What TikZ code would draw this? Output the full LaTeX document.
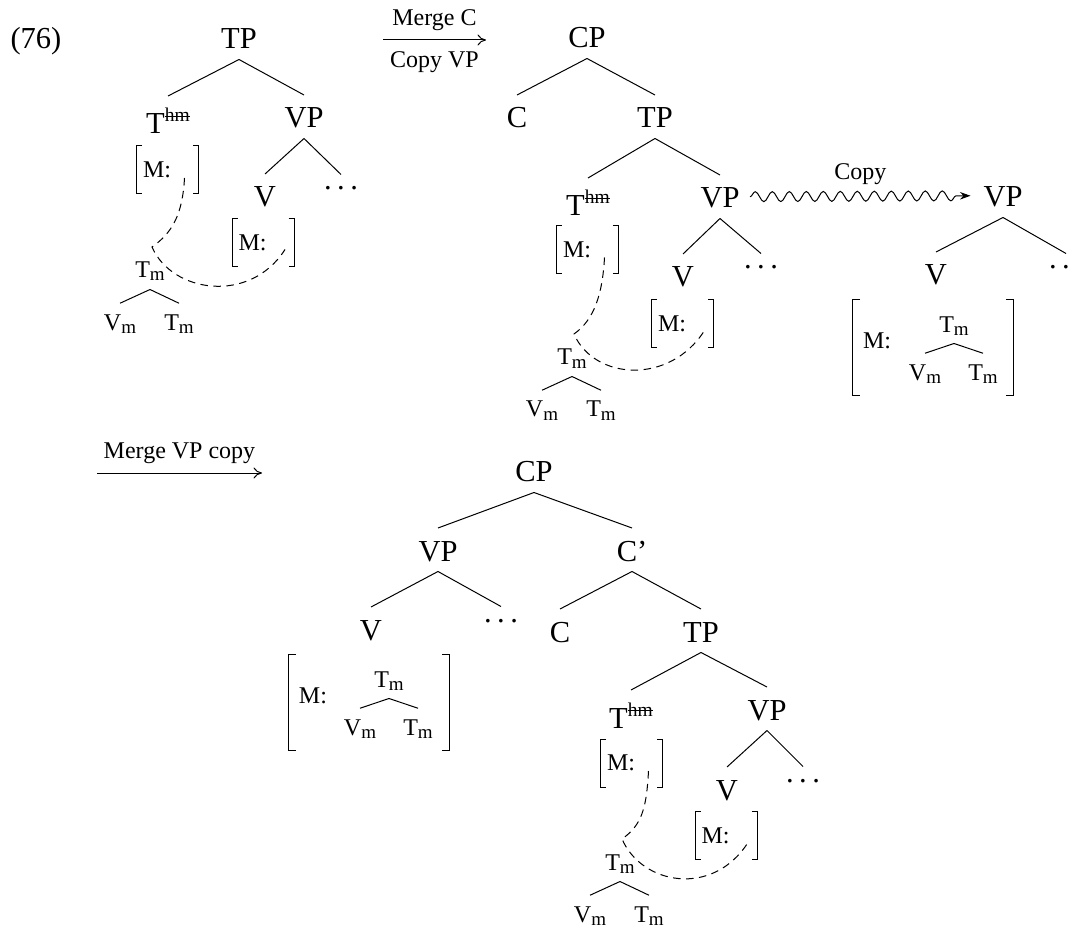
\documentclass[tikz,border=0pt]{standalone}
\usepackage{fontspec}
\setmainfont{Liberation Serif}
\usetikzlibrary{arrows.meta,decorations.pathmorphing}
\newcommand\hmstrike{\raisebox{4.8pt}{\fontsize{7.8}{8}\selectfont\setbox0\hbox{hm}\rlap{\rule[2pt]{\wd0}{0.4pt}}\box0}}
\newcommand\sbm{\raisebox{-1.2pt}{\fontsize{7.6}{8}\selectfont m}}
\newcommand\ldts{.\kern2.2pt.\kern2.2pt.}
\tikzset{
    cat/.style={font=\fontsize{12.2}{14}\selectfont, inner sep=0pt, text height=13pt, text depth=4pt, anchor=base},
    headcat/.style={cat, text height=15pt},
    lex/.style={font=\fontsize{9.6}{11}\selectfont, inner sep=0pt, text height=10.5pt, text depth=4.4pt, anchor=base},
    ell/.style={font=\fontsize{12.2}{14}\selectfont, inner sep=0pt, text height=6pt, text depth=0pt, anchor=base},
    avm/.style={font=\fontsize{9.6}{11}\selectfont, inner xsep=2.4pt, inner ysep=0pt, minimum height=18.8pt, text width=19.6pt, align=left},
    bigavm/.style={avm, minimum height=38pt, text width=56pt, inner xsep=4pt, text depth=5.6pt},
    branch/.style={line width=0.4pt},
    agree/.style={line width=0.4pt, dash pattern=on 3pt off 2.2pt},
    derive/.style={-{To[length=3.4pt,width=4.4pt]}, line width=0.4pt},
    copyflow/.style={-{Stealth[length=4.2pt,width=3pt]}, line width=0.4pt,
        decorate, decoration={snake, amplitude=2pt, segment length=6.8pt, post length=4.5pt}},
    lbl/.style={font=\fontsize{9.6}{11}\selectfont, inner sep=1.5pt},
}

\begin{document}
\begin{tikzpicture}[x=0.4pt, y=-0.4pt]
    \useasboundingbox (0,0) rectangle (1075,926);

    % before Merge C
    \node[cat] (ex) at (36,49) {(76)};
    \node[cat] (tp1) at (239,49) {TP};
    \node[headcat] (thm1) at (168,134) {T\hmstrike};
    \node[cat] (vp1) at (304,128) {VP};
    \node[avm] (b1) at (167.5,170) {M:};
    \node[cat] (v1) at (265,207) {V};
    \node[ell] (d1) at (341,190) {\ldts};
    \node[avm] (bv1) at (263,242.5) {M:};
    \node[lex] (tm1) at (150,278) {T\sbm};
    \node[lex] (vm1) at (120,330) {V\sbm};
    \node[lex] (tt1) at (179,330) {T\sbm};

    \coordinate (a1s) at (383,40);
    \coordinate (a1e) at (486,40);
    \draw[derive] (a1s) -- node[lbl, above=2pt] {Merge C} node[lbl, below=3pt] {Copy VP} (a1e);

    % after Merge C
    \node[cat] (cp2) at (587,48) {CP};
    \node[cat] (c2) at (517,128) {C};
    \node[cat] (tp2) at (655,128) {TP};
    \node[headcat] (thm2) at (588,216) {T\hmstrike};
    \node[cat] (vp2) at (720,208) {VP};
    \node[avm] (b2) at (587.5,249.5) {M:};
    \node[cat] (v2) at (683,287) {V};
    \node[ell] (d2) at (761,269) {\ldts};
    \node[avm] (bv2) at (682.5,323.5) {M:};
    \node[lex] (tm2) at (572,365) {T\sbm};
    \node[lex] (vm2) at (542,417) {V\sbm};
    \node[lex] (tt2) at (601,417) {T\sbm};

    % the copy
    \node[cat] (vp3) at (1003,207) {VP};
    \node[cat] (v3) at (936,285) {V};
    \node[ell] (d3) at (1066,269) {\ldts};
    \node[bigavm] (bv3) at (933,347.5) {M:};
    \node[lex] (tm3) at (954,332) {T\sbm};
    \node[lex] (vm3) at (925,380) {V\sbm};
    \node[lex] (tt3) at (983,380) {T\sbm};
    \draw[copyflow] ([xshift=4pt]vp2.east) -- node[lbl, above=3pt] {Copy} ([xshift=-5pt]vp3.west);

    \coordinate (a2s) at (97,473);
    \coordinate (a2e) at (262,473);
    \draw[derive] (a2s) -- node[lbl, above=2pt] {Merge VP copy} (a2e);

    % after Merge VP copy
    \node[cat] (cp4) at (534,482) {CP};
    \node[cat] (svp4) at (438,561) {VP};
    \node[cat] (cb4) at (632,561) {C'};
    \node[cat] (sv4) at (371,640) {V};
    \node[ell] (sd4) at (501,622) {\ldts};
    \node[cat] (c4) at (560,642) {C};
    \node[cat] (tp4) at (701,642) {TP};
    \node[bigavm] (sbv4) at (369,702.5) {M:};
    \node[lex] (stm4) at (389,687) {T\sbm};
    \node[lex] (svm4) at (360,735) {V\sbm};
    \node[lex] (stt4) at (418,735) {T\sbm};
    \node[headcat] (thm4) at (631,728) {T\hmstrike};
    \node[cat] (vp4) at (767,720) {VP};
    \node[avm] (b4) at (631.5,763) {M:};
    \node[cat] (v4) at (727,800) {V};
    \node[ell] (d4) at (803,782) {\ldts};
    \node[avm] (bv4) at (726,835.5) {M:};
    \node[lex] (tm4) at (620,870) {T\sbm};
    \node[lex] (vm4) at (590,922) {V\sbm};
    \node[lex] (tt4) at (649,922) {T\sbm};

    \foreach \p/\c in {tp1/thm1, tp1/vp1, vp1/v1, vp1/d1, tm1/vm1, tm1/tt1,
        cp2/c2, cp2/tp2, tp2/thm2, tp2/vp2, vp2/v2, vp2/d2, tm2/vm2, tm2/tt2,
        vp3/v3, vp3/d3, tm3/vm3, tm3/tt3,
        cp4/svp4, cp4/cb4, svp4/sv4, svp4/sd4, stm4/svm4, stm4/stt4,
        cb4/c4, cb4/tp4, tp4/thm4, tp4/vp4, vp4/v4, vp4/d4, tm4/vm4, tm4/tt4}
        \draw[branch] (\p.south) -- (\c.north);

    % feature brackets
    \foreach \b/\s in {b1/2.2pt, bv1/2.2pt, b2/2.2pt, bv2/2.2pt, b4/2.2pt, bv4/2.2pt, bv3/3pt, sbv4/3pt}
        \draw[branch] ([xshift=\s]\b.north west) -| (\b.south west) -- ++(\s,0)
            ([xshift=-\s]\b.north east) -| (\b.south east) -- ++(-\s,0);

    % head movement links
    \foreach \t/\v/\m in {b1/bv1/tm1, b2/bv2/tm2, b4/bv4/tm4}
        \draw[agree] ([shift={(17,8)}]\t.center) .. controls +(-2,37) and +(20,-14) .. ([shift={(2,-31)}]\m.base)
            .. controls +(20,46) and +(-35,55) .. ([shift={(22,7)}]\v.center);
\end{tikzpicture}
\end{document}
